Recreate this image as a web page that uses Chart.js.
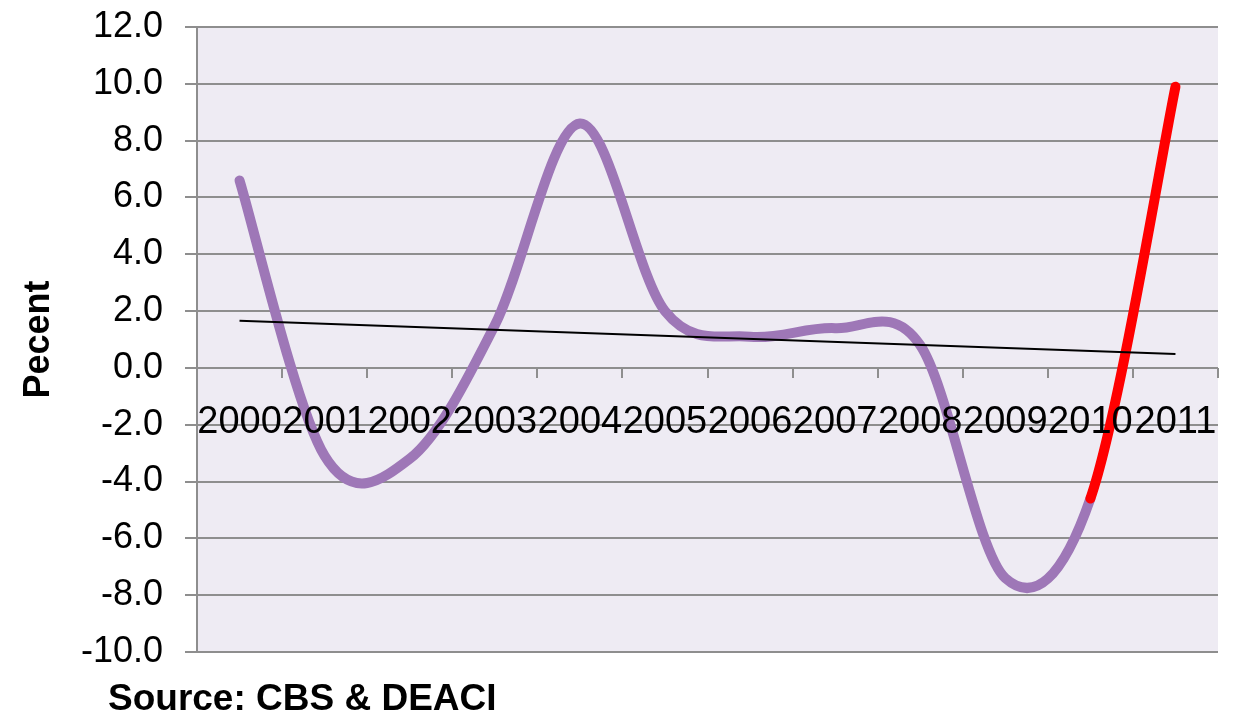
<!DOCTYPE html>
<html>
<head>
<meta charset="utf-8">
<script src="https://cdn.jsdelivr.net/npm/chart.js@4.4.1/dist/chart.umd.min.js"></script>
<style>
  html, body { margin: 0; padding: 0; background: #fff; }
  #wrap { position: relative; width: 1236px; height: 715px; }
</style>
</head>
<body>
<div id="wrap"><canvas id="growthChart"></canvas></div>
<script>
const years = ['2000', '2001', '2002', '2003', '2004', '2005', '2006', '2007', '2008', '2009', '2010', '2011'];
const growth = [6.6, -3.1, -3.2, 1.5, 8.6, 2.0, 1.1, 1.4, 0.8, -7.4, -4.6, 9.9];
// linear trend, only the two end points are drawn
const trend = [1.66, null, null, null, null, null, null, null, null, null, null, 0.49];
const yTicks = [-10, -8, -6, -4, -2, 0, 2, 4, 6, 8, 10, 12];

const FONT = "'Liberation Sans', Arial, sans-serif";
const GRID = '#8e8e8e';

const plotBg = {
    id: 'plotBg',
    beforeDraw(chart) {
        const { ctx, chartArea: a } = chart;
        ctx.save();
        ctx.fillStyle = '#eeebf3';
        ctx.fillRect(a.left, a.top, a.right - a.left, a.bottom - a.top);
        ctx.restore();
    }
};

// spreadsheet-style smoothing: control points at 1/6 of the neighbour span
const evenSmooth = {
    id: 'evenSmooth',
    beforeDatasetDraw(chart, args) {
        const line = args.meta.dataset;
        if (!line || !line.options.tension) return;
        line.updateControlPoints(chart.chartArea, 'x');
        const pts = line.points;
        for (let i = 0; i < pts.length; i++) {
            const p = pts[i];
            const prev = pts[i - 1] || p;
            const next = pts[i + 1] || p;
            const dx = (next.x - prev.x) / 6;
            const dy = (next.y - prev.y) / 6;
            p.cp1x = p.x - dx;
            p.cp1y = p.y - dy;
            p.cp2x = p.x + dx;
            p.cp2y = p.y + dy;
        }
        line._path = undefined;
    }
};

const sourceNote = {
    id: 'sourceNote',
    afterDraw(chart) {
        const ctx = chart.ctx;
        ctx.save();
        ctx.font = 'bold 37px ' + FONT;
        ctx.fillStyle = '#000';
        ctx.textBaseline = 'alphabetic';
        ctx.textAlign = 'left';
        ctx.fillText('Source: CBS & DEACI', 108, 710);
        ctx.restore();
    }
};

new Chart(document.getElementById('growthChart'), {
    type: 'line',
    data: {
        labels: years,
        datasets: [
            {
                data: trend,
                spanGaps: true,
                borderColor: '#000',
                borderWidth: 2,
                pointRadius: 0,
                tension: 0
            },
            {
                data: growth,
                borderColor: '#9e77b7',
                borderWidth: 10,
                borderCapStyle: 'round',
                borderJoinStyle: 'round',
                pointRadius: 0,
                tension: 0.4,
                segment: {
                    borderColor: c => c.p0DataIndex === 10 ? '#ff0000' : undefined
                }
            }
        ]
    },
    options: {
        responsive: true,
        maintainAspectRatio: false,
        animation: false,
        layout: { padding: { top: 27, right: 18, bottom: 63, left: 0 } },
        plugins: { legend: { display: false }, tooltip: { enabled: false } },
        scales: {
            x: {
                position: { y: 0 },
                offset: true,
                afterFit: s => {
                    s.height = 0;
                    s.paddingLeft = 0;
                    s.paddingRight = 0;
                },
                grid: {
                    offset: true,
                    drawOnChartArea: false,
                    color: GRID,
                    lineWidth: 2,
                    tickLength: 10
                },
                border: { display: false },
                ticks: {
                    autoSkip: false,
                    maxRotation: 0,
                    padding: 22,
                    color: '#000',
                    z: 1,
                    font: { family: FONT, size: 38 }
                }
            },
            y: {
                min: -10,
                max: 12,
                afterFit: s => {
                    s.width = 197;
                    s.paddingTop = 0;
                    s.paddingBottom = 0;
                },
                afterBuildTicks: s => { s.ticks = yTicks.map(v => ({ value: v })); },
                grid: { color: GRID, lineWidth: 2, tickLength: 12 },
                border: { color: GRID, width: 2 },
                ticks: {
                    padding: 22,
                    color: '#000',
                    font: { family: FONT, size: 36 },
                    callback: v => v.toFixed(1)
                },
                title: {
                    display: true,
                    text: 'Pecent',
                    color: '#000',
                    padding: { top: 17, bottom: 0 },
                    font: { family: FONT, size: 36, weight: 'bold' }
                }
            }
        }
    },
    plugins: [plotBg, evenSmooth, sourceNote]
});
</script>
</body>
</html>
